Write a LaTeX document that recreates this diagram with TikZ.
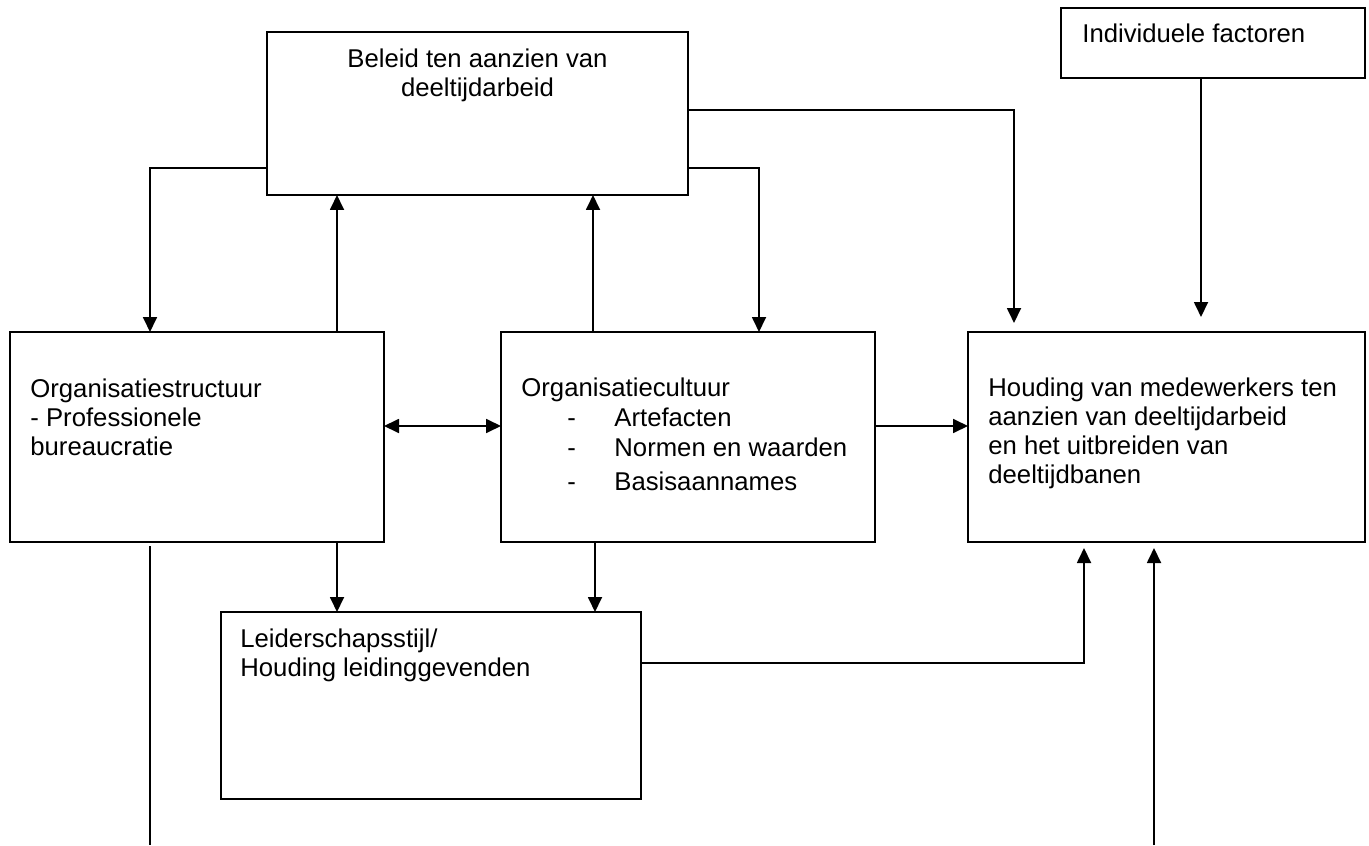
\documentclass[tikz,border=0pt]{standalone}
\usepackage{fontspec}
\setmainfont{Liberation Sans}
\usetikzlibrary{arrows.meta}
\begin{document}
\begin{tikzpicture}[x=0.5pt,y=-0.5pt,
  box/.style={draw, line width=0.9pt, rectangle, inner sep=0pt, outer sep=0pt, anchor=north west},
  txt/.style={inner sep=0pt, anchor=base west, font=\fontsize{12.85pt}{14.6pt}\selectfont},
  ctxt/.style={txt, anchor=base},
  link/.style={line width=0.9pt},
  arr/.style={link, -{Triangle[length=7.5pt,width=7pt]}},
  darr/.style={link, {Triangle[length=7.5pt,width=7pt]}-{Triangle[length=7.5pt,width=7pt]}}]
\useasboundingbox (0,0) rectangle (1369,845);
\fill[white] (0,0) rectangle (1369,845);
% boxes
\node[box, minimum width=210.5pt, minimum height=81.5pt] (beleid) at (267,32) {};
\node[box, minimum width=152pt, minimum height=35pt] (indiv) at (1061,8) {};
\node[box, minimum width=187pt, minimum height=105pt] (struct) at (10,332) {};
\node[box, minimum width=187pt, minimum height=105pt] (cult) at (501,332) {};
\node[box, minimum width=198.5pt, minimum height=105pt] (houd) at (968,332) {};
\node[box, minimum width=210pt, minimum height=93.5pt] (leid) at (221,612) {};
% texts
\node[ctxt] (b1) at (477.5,68) {Beleid ten aanzien van};
\node[ctxt] (b2) at (477.5,97) {deeltijdarbeid};
\node[txt] (i1) at (1082,43) {Individuele factoren};
\node[txt] (s1) at (30,397) {Organisatiestructuur};
\node[txt] (s2) at (30,426) {- Professionele};
\node[txt] (s3) at (30,455) {bureaucratie};
\node[txt] (c1) at (521,396) {Organisatiecultuur};
\node[txt] (cd1) at (567,426) {-};
\node[txt] (c2) at (614,426) {Artefacten};
\node[txt] (cd2) at (567,456) {-};
\node[txt] (c3) at (614,456) {Normen en waarden};
\node[txt] (cd3) at (567,490) {-};
\node[txt] (c4) at (614,490) {Basisaannames};
\node[txt] (h1) at (988,396) {Houding van medewerkers ten};
\node[txt] (h2) at (988,425) {aanzien van deeltijdarbeid};
\node[txt] (h3) at (988,454) {en het uitbreiden van};
\node[txt] (h4) at (988,483) {deeltijdbanen};
\node[txt] (l1) at (240,647) {Leiderschapsstijl/};
\node[txt] (l2) at (240,676) {Houding leidinggevenden};
% free ends
\coordinate (p1end) at (1014,323);
\coordinate (p2end) at (1201,317);
\coordinate (lvtop) at (150,546);
\coordinate (lvbot) at (150,845);
\coordinate (rvbot) at (1154,845);
\coordinate (rvtop) at (1154,548);
\coordinate (ltop) at (1084,548);
% connectors
\draw[arr] (beleid.west |- 0,168) -| (struct.north -| 150,0);
\draw[arr] (struct.north -| 337,0) -- (beleid.south -| 337,0);
\draw[arr] (cult.north -| 593,0) -- (beleid.south -| 593,0);
\draw[arr] (beleid.east |- 0,168) -| (cult.north -| 759,0);
\draw[arr] (beleid.east |- 0,110) -| (p1end);
\draw[arr] (indiv.south -| p2end) -- (p2end);
\draw[darr] (struct.east |- 0,426) -- (cult.west |- 0,426);
\draw[arr] (cult.east |- 0,426) -- (houd.west |- 0,426);
\draw[arr] (struct.south -| 337,0) -- (leid.north -| 337,0);
\draw[arr] (cult.south -| 595,0) -- (leid.north -| 595,0);
\draw[arr] (leid.east |- 0,663) -| (ltop);
\draw[link] (lvtop) -- (lvbot);
\draw[arr] (rvbot) -- (rvtop);
\end{tikzpicture}
\end{document}
